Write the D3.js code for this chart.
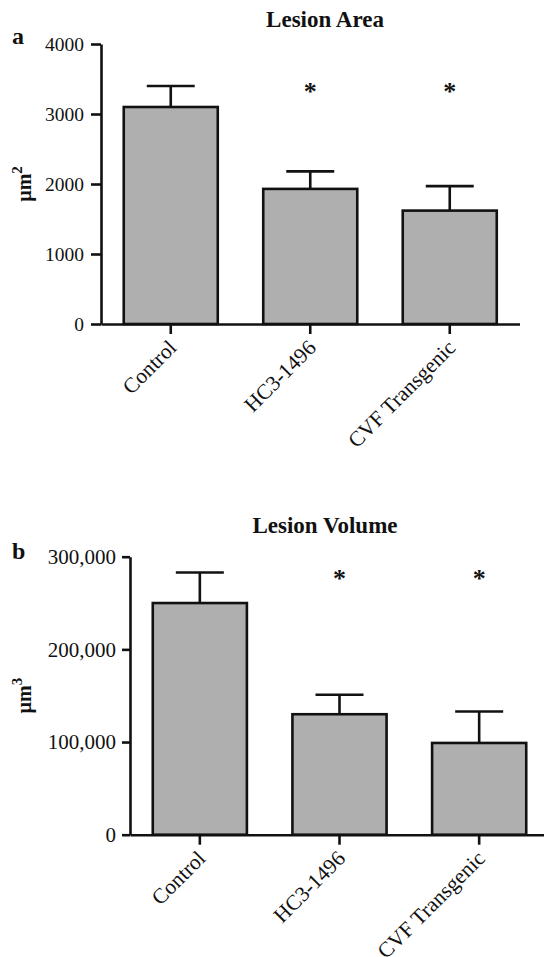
<!DOCTYPE html>
<html>
<head>
<meta charset="utf-8">
<script src="https://cdn.jsdelivr.net/npm/d3@7"></script>
<style>
  body { margin: 0; background: #fff; }
  svg { display: block; }
  text { font-family: "Liberation Serif", "Times New Roman", serif; fill: #111; }
</style>
</head>
<body>
<svg id="fig" width="544" height="957"></svg>
<script>
// Groups shared by both panels
const categories = ["Control", "HC3-1496", "CVF Transgenic"];
const significant = [false, true, true];

// Panel a: lesion area (µm²), mean and upper error
const areaMeans  = [3100, 1930, 1620];
const areaErrors = [300, 250, 350];
const areaTicks  = [0, 1000, 2000, 3000, 4000];

// Panel b: lesion volume (µm³), mean and upper error
const volumeMeans  = [250000, 130000, 99000];
const volumeErrors = [33000, 21000, 34000];
const volumeTicks  = [0, 100000, 200000, 300000];

const svg = d3.select("#fig");
const INK = "#111";
const LW = 2.6;

function drawPanel(p) {
  const g = svg.append("g");

  const x = d3.scaleBand()
    .domain(categories)
    .range([p.left, p.right])
    .paddingInner(0.326)
    .paddingOuter(0.163);

  const y = d3.scaleLinear()
    .domain([0, p.max])
    .range([p.bottom, p.top]);

  // bars
  g.selectAll("rect.bar")
    .data(p.means)
    .join("rect")
    .attr("class", "bar")
    .attr("x", (d, i) => x(categories[i]))
    .attr("y", d => y(d))
    .attr("width", x.bandwidth())
    .attr("height", d => y(0) - y(d))
    .attr("fill", "#afafaf")
    .attr("stroke", INK)
    .attr("stroke-width", LW);

  // upper error bars
  const capHalf = x.bandwidth() * 0.255;
  p.means.forEach((m, i) => {
    const cx = x(categories[i]) + x.bandwidth() / 2;
    const top = m + p.errors[i];
    g.append("line")
      .attr("x1", cx).attr("x2", cx)
      .attr("y1", y(m)).attr("y2", y(top))
      .attr("stroke", INK).attr("stroke-width", LW);
    g.append("line")
      .attr("x1", cx - capHalf).attr("x2", cx + capHalf)
      .attr("y1", y(top)).attr("y2", y(top))
      .attr("stroke", INK).attr("stroke-width", LW);
  });

  // significance markers
  significant.forEach((s, i) => {
    if (!s) return;
    const cx = x(categories[i]) + x.bandwidth() / 2;
    g.append("text")
      .attr("x", cx)
      .attr("y", y(p.starAt) + 12)
      .attr("text-anchor", "middle")
      .attr("font-size", 26)
      .attr("font-weight", "bold")
      .text("*");
  });

  // y axis
  const yAxis = g.append("g")
    .attr("transform", `translate(${p.left},0)`)
    .call(d3.axisLeft(y)
      .tickValues(p.ticks)
      .tickFormat(p.format)
      .tickSize(p.tickLen)
      .tickSizeOuter(0)
      .tickPadding(p.tickPad));
  yAxis.select(".domain").attr("stroke", INK).attr("stroke-width", LW);
  yAxis.selectAll(".tick line").attr("stroke", INK).attr("stroke-width", LW);
  yAxis.selectAll(".tick text")
    .attr("font-family", "Liberation Serif, serif")
    .attr("font-size", p.tickFont)
    .attr("fill", INK);

  // x axis
  const xAxis = g.append("g")
    .attr("transform", `translate(0,${p.bottom})`)
    .call(d3.axisBottom(x).tickSize(10).tickSizeOuter(0).tickFormat(""));
  xAxis.select(".domain").attr("stroke", INK).attr("stroke-width", LW);
  xAxis.selectAll(".tick line").attr("stroke", INK).attr("stroke-width", LW);

  // rotated category labels
  categories.forEach(c => {
    const cx = x(c) + x.bandwidth() / 2;
    g.append("text")
      .attr("transform", `translate(${cx + 7},${p.bottom + 25}) rotate(-45)`)
      .attr("text-anchor", "end")
      .attr("font-size", 21.5)
      .text(c);
  });

  // title
  g.append("text")
    .attr("x", p.titleX)
    .attr("y", p.titleY)
    .attr("text-anchor", "middle")
    .attr("font-size", 23)
    .attr("font-weight", "bold")
    .text(p.title);

  // panel letter
  g.append("text")
    .attr("x", 12)
    .attr("y", p.letterY)
    .attr("font-size", 24)
    .attr("font-weight", "bold")
    .text(p.letter);

  // y-axis unit label
  const unit = g.append("text")
    .attr("transform", `translate(${p.unitX},${(p.top + p.bottom) / 2}) rotate(-90)`)
    .attr("text-anchor", "middle")
    .attr("font-size", 20)
    .attr("font-weight", "bold");
  unit.append("tspan").text("µm");
  unit.append("tspan")
    .attr("dy", -9)
    .attr("font-size", 15)
    .text(p.power);
}

drawPanel({
  means: areaMeans, errors: areaErrors, ticks: areaTicks,
  max: 4000, starAt: 3370,
  left: 101, right: 519.5, top: 44, bottom: 324,
  format: d3.format("d"), tickFont: 19.5, tickLen: 10, tickPad: 7,
  title: "Lesion Area", titleX: 325, titleY: 27,
  letter: "a", letterY: 44,
  unitX: 31, power: "2"
});

drawPanel({
  means: volumeMeans, errors: volumeErrors, ticks: volumeTicks,
  max: 300000, starAt: 280000,
  left: 130, right: 549, top: 556.7, bottom: 834.7,
  format: d3.format(","), tickFont: 21, tickLen: 8, tickPad: 6,
  title: "Lesion Volume", titleX: 325, titleY: 533,
  letter: "b", letterY: 559,
  unitX: 31, power: "3"
});
</script>
</body>
</html>
